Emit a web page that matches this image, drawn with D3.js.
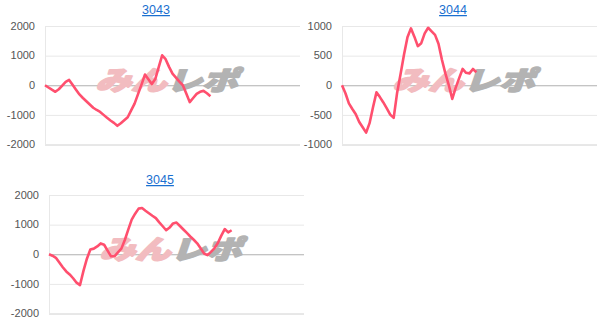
<!DOCTYPE html>
<html>
<head>
<meta charset="utf-8">
<script src="https://cdn.jsdelivr.net/npm/d3@7"></script>
<style>
  body { margin: 0; background: #fff; }
  svg { display: block; }
</style>
</head>
<body>
<div id="chart"></div>
<script>
// number of x slots on every chart (the line only fills part of it)
var slotCount = 75;

// values per slot
var values3043 = [0, -75, -150, -220, -135, -10, 115, 180, 15, -150, -310, -430, -540, -650, -760,
  -835, -900, -1000, -1100, -1190, -1270, -1370, -1280, -1180, -1080, -850, -620, -300, 20, 360,
  200, 40, 210, 610, 1010, 880, 620, 390, 260, 120, 0, -280, -570, -430, -290, -220, -190, -270, -370];
var values3044 = [0, -135, -305, -400, -490, -620, -710, -800, -640, -370, -120, -200, -290, -390, -495,
  -550, -125, 190, 520, 810, 960, 820, 660, 710, 875, 970, 910, 850, 700, 430,
  200, 0, -230, -40, 120, 275, 210, 200, 275, 220];
var values3045 = [0, -50, -120, -280, -440, -580, -680, -810, -960, -1040, -560, -150, 160, 190, 265,
  365, 320, 125, -70, -70, 60, 190, 480, 830, 1170, 1370, 1540, 1560, 1470, 1385,
  1300, 1220, 1075, 945, 810, 900, 1040, 1070, 955, 835, 720, 600, 490, 370, 200,
  25, -30, 80, 200, 380, 630, 850, 740, 810];

var ticks3043 = [2000, 1000, 0, -1000, -2000];
var ticks3044 = [1000, 500, 0, -500, -1000];
var ticks3045 = [2000, 1000, 0, -1000, -2000];

var width = 607, height = 335;
var svg = d3.select("#chart").append("svg")
  .attr("width", width)
  .attr("height", height);

var charts = [
  {title: "3043", values: values3043, ticks: ticks3043, left: 45, top: 26, titleX: 156, titleY: 14},
  {title: "3044", values: values3044, ticks: ticks3044, left: 342, top: 26, titleX: 453, titleY: 14},
  {title: "3045", values: values3045, ticks: ticks3045, left: 49, top: 195, titleX: 160, titleY: 184}
];

var plotW = 255, plotH = 118.5;

charts.forEach(function(c) {
  var g = svg.append("g").attr("transform", "translate(" + c.left + "," + c.top + ")");

  var x = d3.scaleLinear().domain([0, slotCount - 1]).range([0, plotW]);
  var y = d3.scaleLinear().domain(d3.extent(c.ticks)).range([plotH, 0]);

  // grid lines
  g.selectAll(".grid").data(c.ticks).enter().append("line")
    .attr("x1", 0).attr("x2", plotW)
    .attr("y1", d => y(d) + 0.5).attr("y2", d => y(d) + 0.5)
    .attr("stroke", d => d === 0 ? "#b0b0b0" : (d === c.ticks[c.ticks.length - 1] ? "#d0d0d0" : "#e8e8e8"))
    .attr("stroke-width", 1);

  // left axis line
  g.append("line")
    .attr("x1", 0.5).attr("x2", 0.5)
    .attr("y1", 0).attr("y2", plotH)
    .attr("stroke", "#e8e8e8");

  // tick labels
  g.selectAll(".lbl").data(c.ticks).enter().append("text")
    .attr("x", -10)
    .attr("y", d => y(d))
    .attr("dy", "0.35em")
    .attr("text-anchor", "end")
    .style("font-family", "'Liberation Sans', Arial, sans-serif")
    .style("font-size", "11px")
    .style("fill", "#555")
    .text(d => d);

  // watermark
  var wm = g.append("text")
    .attr("transform", "translate(" + (plotW / 2 - 2) + "," + 52.5 + ") scale(1,0.82) skewX(-16)")
    .attr("text-anchor", "middle")
    .attr("dominant-baseline", "central")
    .style("font-family", "'Noto Sans CJK JP', sans-serif")
    .style("font-weight", "900")
    .style("font-size", "32px")
    .style("stroke-width", "2.2px")
    .style("stroke-linejoin", "round")
    .attr("textLength", 142)
    .attr("lengthAdjust", "spacingAndGlyphs");
  wm.append("tspan").text("みん").style("fill", "#f2bcc0").style("stroke", "#f2bcc0");
  wm.append("tspan").text("レポ").style("fill", "#b3b3b3").style("stroke", "#b3b3b3");

  // line
  var line = d3.line()
    .x((d, i) => x(i))
    .y(d => y(d));

  g.append("path")
    .datum(c.values)
    .attr("d", line)
    .attr("fill", "none")
    .attr("stroke", "#ff4f6e")
    .attr("stroke-width", 2.6)
    .attr("stroke-linejoin", "round");

  // title link
  svg.append("text")
    .attr("x", c.titleX)
    .attr("y", c.titleY)
    .attr("text-anchor", "middle")
    .style("font-family", "'Liberation Sans', Arial, sans-serif")
    .style("font-size", "12.5px")
    .style("fill", "#1a6fd0")
    .style("text-decoration", "underline")
    .text(c.title);
});
</script>
</body>
</html>
